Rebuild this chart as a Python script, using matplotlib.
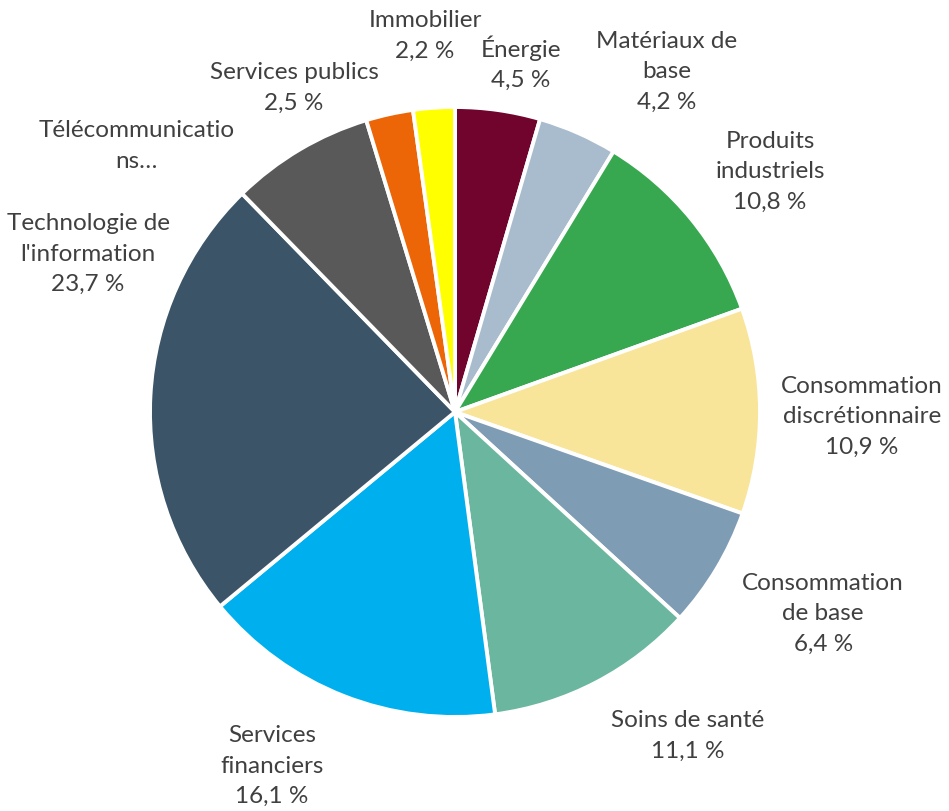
import matplotlib
matplotlib.use("Agg")
import matplotlib.pyplot as plt

categories = ["Énergie", "Matériaux de base", "Produits industriels",
              "Consommation discrétionnaire", "Consommation de base",
              "Soins de santé", "Services financiers",
              "Technologie de l'information", "Télécommunications",
              "Services publics", "Immobilier"]
values = [4.5, 4.2, 10.8, 10.9, 6.4, 11.1, 16.1, 23.7, 7.6, 2.5, 2.2]
label_names = ["Énergie", "Matériaux de\nbase", "Produits\nindustriels",
               "Consommation\ndiscrétionnaire", "Consommation\nde base",
               "Soins de santé", "Services\nfinanciers",
               "Technologie de\nl'information", "Télécommunicatio\nns…",
               "Services publics", "Immobilier"]
show_pct = [True, True, True, True, True, True, True, True, False, True, True]
colors = ["#70042C", "#A9BCCD", "#37A84F", "#F8E59A", "#7F9CB5", "#6BB69F",
          "#00B0EE", "#3C5468", "#595959", "#EC6608", "#FFFF00"]

# label positions in pie-radius units (layout)
label_pos = [(0.216, 1.144), (0.695, 1.115), (1.033, 0.787), (1.334, -0.016),
             (1.207, -0.662), (0.764, -1.062), (-0.600, -1.161),
             (-1.203, 0.518), (-1.043, 0.872), (-0.528, 1.062), (-0.098, 1.233)]

W, H = 949, 811
cx, cy, R = 455, 412, 305
fig = plt.figure(figsize=(W / 100, H / 100), dpi=100)
ax = fig.add_axes([0, 0, 1, 1])

ax.pie(values, colors=colors, startangle=90, counterclock=False, radius=1,
       wedgeprops=dict(edgecolor="white", linewidth=2.8), frame=True)
ax.set_xlim(-cx / R, (W - cx) / R)
ax.set_ylim(-(H - cy) / R, cy / R)
ax.set_aspect("auto")
ax.axis("off")

for name, v, sp, (x, y) in zip(label_names, values, show_pct, label_pos):
    txt = name + ("\n" + f"{v:.1f}".replace(".", ",") + " %" if sp else "")
    ax.text(x, y, txt, ha="center", va="center", fontsize=17.5,
            family="Lato", color="#404040", linespacing=1.55)

fig.savefig("out.png", dpi=100, facecolor="white")
